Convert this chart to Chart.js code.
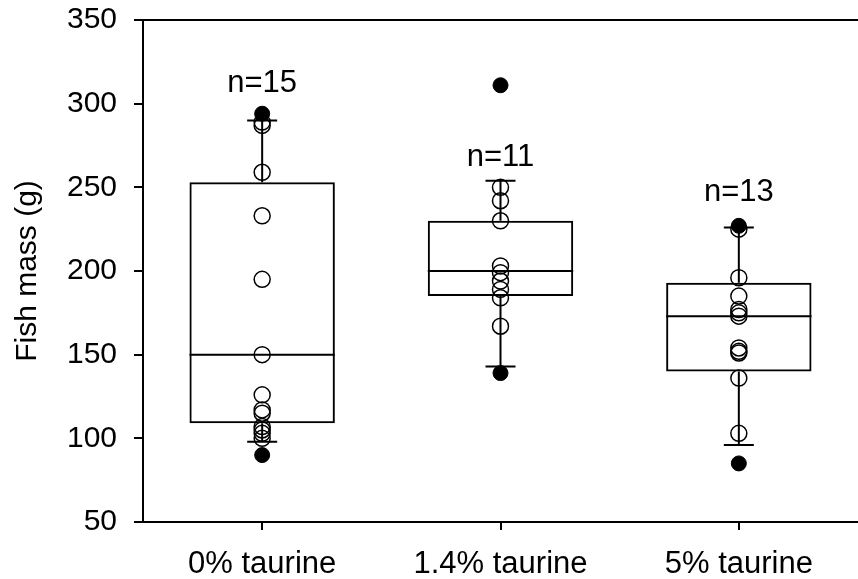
<!DOCTYPE html>
<html>
<head>
<meta charset="utf-8">
<script src="https://cdn.jsdelivr.net/npm/chart.js@4"></script>
<style>
  html, body { margin: 0; padding: 0; background: #fff; overflow: hidden; }
  #wrap { width: 858px; height: 579px; }
</style>
</head>
<body>
<div id="wrap"><canvas id="chart"></canvas></div>
<script>
// ── data ──
const categories = ['0% taurine', '1.4% taurine', '5% taurine'];
const q1        = [109, 185, 140];
const median    = [150, 200, 173];
const q3        = [253, 230, 193];
const whiskerLo = [98, 143, 96];
const whiskerHi = [290, 254, 226];
const pointsOpen = [
  [289, 287, 259, 233, 195, 150, 126, 117, 115, 107, 105, 103, 100],
  [250, 242, 230, 203, 199, 194, 189, 184, 167],
  [225, 196, 185, 177, 175, 173, 154, 152, 151, 136, 103],
];
const outliers = [
  [294, 90],
  [311, 139],
  [227, 85],
];
const nLabels = ['n=15', 'n=11', 'n=13'];
const nLabelAt = [312, 268, 247];
const yTicks = [50, 100, 150, 200, 250, 300, 350];

const FONT = "'Liberation Sans', Arial, sans-serif";

const toXY = sets => sets.flatMap((arr, i) => arr.map(v => ({ x: categories[i], y: v })));

// whiskers, medians, top frame and n= labels
const boxExtras = {
  id: 'boxExtras',
  afterDatasetsDraw(chart) {
    const { ctx, chartArea: a, scales: { x, y } } = chart;
    ctx.save();
    ctx.strokeStyle = '#000';
    ctx.lineWidth = 2;
    const boxW = x.width / categories.length * 0.61;
    categories.forEach((c, i) => {
      const cx = x.getPixelForValue(i);
      ctx.beginPath();
      // median
      ctx.moveTo(cx - boxW / 2, y.getPixelForValue(median[i]));
      ctx.lineTo(cx + boxW / 2, y.getPixelForValue(median[i]));
      // whiskers
      ctx.moveTo(cx, y.getPixelForValue(q3[i]));
      ctx.lineTo(cx, y.getPixelForValue(whiskerHi[i]));
      ctx.moveTo(cx, y.getPixelForValue(q1[i]));
      ctx.lineTo(cx, y.getPixelForValue(whiskerLo[i]));
      // caps
      ctx.moveTo(cx - 15, y.getPixelForValue(whiskerHi[i]));
      ctx.lineTo(cx + 15, y.getPixelForValue(whiskerHi[i]));
      ctx.moveTo(cx - 15, y.getPixelForValue(whiskerLo[i]));
      ctx.lineTo(cx + 15, y.getPixelForValue(whiskerLo[i]));
      ctx.stroke();

      ctx.fillStyle = '#000';
      ctx.font = '31px ' + FONT;
      ctx.textAlign = 'center';
      ctx.textBaseline = 'middle';
      ctx.fillText(nLabels[i], cx, y.getPixelForValue(nLabelAt[i]));
    });
    // top frame (figure is cropped on the right, no right border)
    ctx.beginPath();
    ctx.moveTo(a.left, a.top);
    ctx.lineTo(a.right, a.top);
    ctx.stroke();
    ctx.restore();
  }
};

new Chart(document.getElementById('chart'), {
  type: 'bar',
  data: {
    labels: categories,
    datasets: [
      {
        type: 'bar',
        data: categories.map((c, i) => [q1[i], q3[i]]),
        backgroundColor: 'rgba(255,255,255,0)',
        borderColor: '#000',
        borderWidth: 2,
        borderSkipped: false,
        barPercentage: 0.61,
        categoryPercentage: 1,
        order: 3,
      },
      {
        type: 'scatter',
        data: toXY(pointsOpen),
        pointRadius: 8,
        pointBorderWidth: 1.5,
        pointBackgroundColor: 'rgba(255,255,255,0)',
        pointBorderColor: '#000',
        order: 2,
      },
      {
        type: 'scatter',
        data: toXY(outliers),
        pointRadius: 7.5,
        pointBorderWidth: 1,
        pointBackgroundColor: '#000',
        pointBorderColor: '#000',
        order: 1,
      },
    ],
  },
  options: {
    responsive: true,
    maintainAspectRatio: false,
    animation: false,
    layout: { autoPadding: false, padding: { top: 20, right: 0, left: 0, bottom: 0 } },
    plugins: { legend: { display: false }, tooltip: { enabled: false } },
    scales: {
      x: {
        type: 'category',
        offset: true,
        grid: { offset: false, drawOnChartArea: false, drawTicks: true, tickLength: 8, color: '#000', lineWidth: 2 },
        border: { color: '#000', width: 2 },
        ticks: { color: '#000', font: { family: FONT, size: 31 }, padding: 16, maxRotation: 0 },
        afterFit: s => { s.height = 57; },
      },
      y: {
        min: 50, max: 350,
        afterBuildTicks: s => { s.ticks = yTicks.map(v => ({ value: v })); },
        grid: { drawOnChartArea: false, drawTicks: true, tickLength: 9, color: '#000', lineWidth: 2 },
        border: { color: '#000', width: 2 },
        ticks: { color: '#000', font: { family: FONT, size: 30 }, padding: 17 },
        title: { display: true, text: 'Fish mass (g)', color: '#000', font: { family: FONT, size: 30 }, padding: { top: 10, bottom: 0 } },
        afterFit: s => { s.width = 143; s.paddingTop = 0; s.paddingBottom = 0; },
      },
    },
  },
  plugins: [boxExtras],
});
</script>
</body>
</html>
